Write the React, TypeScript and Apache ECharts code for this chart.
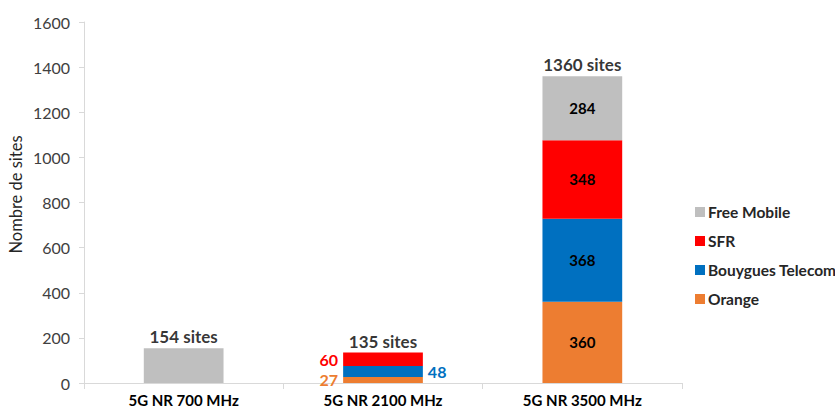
import React, { useEffect, useRef } from "react";
import * as echarts from "echarts";

const categories = ["5G NR 700 MHz", "5G NR 2100 MHz", "5G NR 3500 MHz"];
const orange = [null, 27, 360];
const bouygues = [null, 48, 368];
const sfr = [null, 60, 348];
const free = [154, null, 284];
const yTicks = [0, 200, 400, 600, 800, 1000, 1200, 1400, 1600];

const FONT = "Lato, 'Open Sans', sans-serif";
const COLORS = { orange: "#ED7D31", bouygues: "#0070C0", sfr: "#FF0000", free: "#BFBFBF" };

const totals = categories.map((_, i) =>
  [orange[i], bouygues[i], sfr[i], free[i]].reduce((a: number, v) => a + (v ?? 0), 0)
);

function itemsWith(values: (number | null)[], color: string, side: "left" | "right") {
  return values.map((v, i) => {
    if (v == null) return null;
    if (i === 0) return { value: v, label: { show: false } };
    if (i === 1)
      return {
        value: v,
        label: { show: true, position: side, distance: 5, color, fontSize: 16, fontWeight: "bold" },
      };
    return { value: v };
  });
}

export default function App() {
  const ref = useRef<HTMLDivElement>(null);
  useEffect(() => {
    if (!ref.current) return;
    const chart = echarts.init(ref.current, undefined, { renderer: "svg" });
    const insideLabel = {
      show: true,
      position: "inside",
      color: "#000",
      fontSize: 15,
      fontWeight: "bold",
      fontFamily: FONT,
    };
    const mk = (name: string, data: any[], color: string) => ({
      name,
      type: "bar",
      stack: "total",
      barWidth: "40%",
      data,
      itemStyle: { color },
      label: insideLabel,
    });
    chart.setOption({
      animation: false,
      textStyle: { fontFamily: FONT },
      grid: { left: 84, right: 153, top: 22, bottom: 27, containLabel: false, outerBoundsMode: "none" },
      legend: {
        orient: "vertical",
        left: 690,
        top: 199,
        itemWidth: 10,
        itemHeight: 10,
        itemGap: 13,
        icon: "rect",
        data: ["Free Mobile", "SFR", "Bouygues Telecom", "Orange"],
        textStyle: { fontFamily: FONT, fontSize: 15.5, fontWeight: "bold", color: "#262626", padding: [0, 0, 0, -2] },
      },
      xAxis: {
        type: "category",
        data: categories,
        axisLine: { lineStyle: { color: "#D9D9D9" } },
        axisTick: { show: true, length: 6, lineStyle: { color: "#D9D9D9" } },
        axisLabel: { color: "#000", fontSize: 15, fontWeight: "bold", margin: 9, fontFamily: FONT },
      },
      yAxis: {
        type: "value",
        min: yTicks[0],
        max: yTicks[yTicks.length - 1],
        interval: 200,
        name: "Nombre de sites",
        nameLocation: "middle",
        nameGap: 60,
        nameMoveOverlap: false,
        nameTextStyle: { fontSize: 16.5, color: "#262626", fontFamily: FONT, padding: [0, 0, 0, 16] },
        splitLine: { show: false },
        axisLine: { show: true, lineStyle: { color: "#D9D9D9" } },
        axisTick: { show: true, length: 5, lineStyle: { color: "#D9D9D9" } },
        axisLabel: {
          color: "#404040",
          fontSize: 16,
          margin: 14,
          fontFamily: FONT,
          formatter: (v: number) => String(v),
        },
      },
      series: [
        mk("Orange", itemsWith(orange, COLORS.orange, "left"), COLORS.orange),
        mk("Bouygues Telecom", itemsWith(bouygues, COLORS.bouygues, "right"), COLORS.bouygues),
        mk("SFR", itemsWith(sfr, COLORS.sfr, "left"), COLORS.sfr),
        mk("Free Mobile", itemsWith(free, COLORS.free, "left"), COLORS.free),
        {
          name: "Total",
          type: "scatter",
          symbolSize: 0,
          data: totals,
          silent: true,
          label: {
            show: true,
            position: "top",
            distance: 3,
            formatter: (p: any) => `${p.value} sites`,
            color: "#000",
            fontSize: 17,
            fontWeight: "bold",
            fontFamily: FONT,
          },
        },
      ],
    });
    return () => chart.dispose();
  }, []);
  return <div ref={ref} style={{ width: 835, height: 410, position: "absolute", left: 0, top: 0 }} />;
}
